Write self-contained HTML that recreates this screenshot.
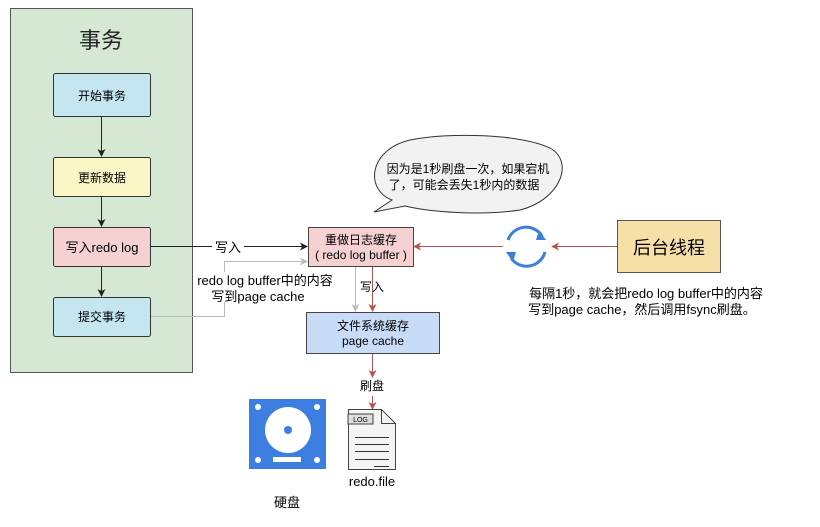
<!DOCTYPE html>
<html><head><meta charset="utf-8"><style>
body{margin:0;width:820px;height:522px;background:#fff;overflow:hidden;font-family:"Liberation Sans","Noto Sans CJK SC",sans-serif;}
</style></head><body>
<svg width="820" height="522" xmlns="http://www.w3.org/2000/svg" font-family="Liberation Sans, Noto Sans CJK SC, sans-serif">
<defs>
<marker id="ab" markerWidth="8" markerHeight="8" refX="7" refY="4" orient="auto" markerUnits="userSpaceOnUse"><path d="M0,0 L8,4 L0,8 L2,4z" fill="#222"/></marker>
<marker id="ar" markerWidth="8" markerHeight="8" refX="7" refY="4" orient="auto" markerUnits="userSpaceOnUse"><path d="M0,0 L8,4 L0,8 L2,4z" fill="#b85450"/></marker>
<marker id="ag" markerWidth="8" markerHeight="8" refX="7" refY="4" orient="auto" markerUnits="userSpaceOnUse"><path d="M0,0 L8,4 L0,8 L2,4z" fill="#bbb"/></marker>
</defs>
<rect x="10.5" y="8.5" width="182" height="364" fill="#d5e8d4" stroke="#555"/>
<text x="101" y="48" font-size="22" text-anchor="middle" fill="#222">事务</text>
<rect x="53.5" y="73.5" width="97" height="43" rx="2" fill="#c5e6f0" stroke="#333"/>
<text x="102" y="100" font-size="12" text-anchor="middle">开始事务</text>
<rect x="53.5" y="157.5" width="97" height="39" rx="2" fill="#fbf6c6" stroke="#333"/>
<text x="102" y="182" font-size="12" text-anchor="middle">更新数据</text>
<rect x="53.5" y="227.5" width="97" height="39" rx="2" fill="#f6d1d1" stroke="#333"/>
<text x="102" y="252" font-size="13" text-anchor="middle">写入redo log</text>
<rect x="53.5" y="297.5" width="97" height="39" rx="2" fill="#c5e6f0" stroke="#333"/>
<text x="102" y="321" font-size="12" text-anchor="middle">提交事务</text>
<line x1="101.5" y1="117" x2="101.5" y2="156" stroke="#222" marker-end="url(#ab)"/>
<line x1="101.5" y1="197" x2="101.5" y2="226" stroke="#222" marker-end="url(#ab)"/>
<line x1="101.5" y1="267" x2="101.5" y2="296" stroke="#222" marker-end="url(#ab)"/>
<line x1="151" y1="246.5" x2="307" y2="246.5" stroke="#222" marker-end="url(#ab)"/>
<rect x="212" y="238" width="32" height="16" fill="#fff"/>
<text x="228" y="252" font-size="13" text-anchor="middle">写入</text>
<polyline points="151,316.5 224.5,316.5 224.5,261.5 307,261.5" fill="none" stroke="#bbb" marker-end="url(#ag)"/>
<rect x="195" y="272" width="140" height="30" fill="#fff"/>
<text x="265" y="285" font-size="13" text-anchor="middle">redo log buffer中的内容</text>
<text x="258" y="301" font-size="13" text-anchor="middle">写到page cache</text>
<rect x="308.5" y="227.5" width="105" height="39" fill="#f6d1d1" stroke="#444"/>
<text x="361" y="244" font-size="12" text-anchor="middle">重做日志缓存</text>
<text x="361" y="259" font-size="12" text-anchor="middle">( redo log buffer )</text>
<line x1="355.5" y1="267" x2="355.5" y2="311" stroke="#bbb" marker-end="url(#ag)"/>
<line x1="372.5" y1="267" x2="372.5" y2="311" stroke="#b85450" marker-end="url(#ar)"/>
<text x="372" y="291" font-size="12" text-anchor="middle">写入</text>
<rect x="306.5" y="312.5" width="133" height="41" fill="#c8dcf8" stroke="#444"/>
<text x="373" y="330" font-size="12" text-anchor="middle">文件系统缓存</text>
<text x="373" y="345" font-size="12" text-anchor="middle">page cache</text>
<line x1="372.5" y1="354" x2="372.5" y2="377" stroke="#b85450" marker-end="url(#ar)"/>
<text x="372" y="390" font-size="12" text-anchor="middle">刷盘</text>
<line x1="372.5" y1="396" x2="372.5" y2="409" stroke="#b85450" marker-end="url(#ar)"/>
<path d="M374,212 L392,200 C365,190 368,150 410,140 C450,132 520,134 550,148 C575,162 560,200 520,210 C480,216 430,212 405,206 Z" fill="#f2f2f2" stroke="#333"/>
<text x="468" y="173" font-size="12" text-anchor="middle">因为是1秒刷盘一次，如果宕机</text>
<text x="464" y="189" font-size="12" text-anchor="middle">了，可能会丢失1秒内的数据</text>
<line x1="617" y1="246.5" x2="552" y2="246.5" stroke="#b85450" marker-end="url(#ar)"/>
<line x1="503" y1="246.5" x2="414" y2="246.5" stroke="#b85450" marker-end="url(#ar)"/>
<path d="M508,240 A19,19 0 0 1 542,236" fill="none" stroke="#3b7fd9" stroke-width="3"/>
<path d="M545,252 A19,19 0 0 1 511,258" fill="none" stroke="#3b7fd9" stroke-width="3"/>
<path d="M539,230 L546,240 L536,240z" fill="#3b7fd9"/>
<path d="M513,262 L506,252 L516,252z" fill="#3b7fd9"/>
<rect x="617.5" y="220.5" width="103" height="52" fill="#f7dfa8" stroke="#555"/>
<text x="669" y="254" font-size="18" text-anchor="middle">后台线程</text>
<text x="646" y="298" font-size="13" text-anchor="middle">每隔1秒，就会把redo log buffer中的内容</text>
<text x="642" y="314" font-size="13" text-anchor="middle">写到page cache，然后调用fsync刷盘。</text>
<rect x="249" y="399" width="77" height="70" fill="#3c7fe0"/>
<circle cx="288" cy="430" r="23" fill="#fff"/>
<circle cx="288" cy="430" r="4" fill="#3c7fe0"/>
<circle cx="258" cy="407" r="3" fill="#fff"/><circle cx="317" cy="407" r="3" fill="#fff"/>
<circle cx="258" cy="460" r="3" fill="#fff"/><circle cx="317" cy="460" r="3" fill="#fff"/>
<rect x="273" y="457" width="28" height="5" fill="#fff"/>
<text x="287" y="507" font-size="13" text-anchor="middle">硬盘</text>
<path d="M348.5,409.5 L381.5,409.5 L395.5,423.5 L395.5,469.5 L348.5,469.5Z" fill="#f4f4f4" stroke="#444"/>
<path d="M381.5,409.5 L381.5,423.5 L395.5,423.5" fill="none" stroke="#444"/>
<rect x="348" y="414" width="25" height="10" fill="#ddd" stroke="#444"/>
<text x="360.5" y="422" font-size="7" text-anchor="middle">LOG</text>
<g stroke="#333"><line x1="355" y1="437.5" x2="389" y2="437.5"/><line x1="355" y1="444.5" x2="389" y2="444.5"/><line x1="355" y1="451.5" x2="389" y2="451.5"/><line x1="355" y1="459.5" x2="389" y2="459.5"/><line x1="374" y1="466.5" x2="389" y2="466.5"/></g>
<text x="372" y="486" font-size="13" text-anchor="middle">redo.file</text>
</svg>
</body></html>
